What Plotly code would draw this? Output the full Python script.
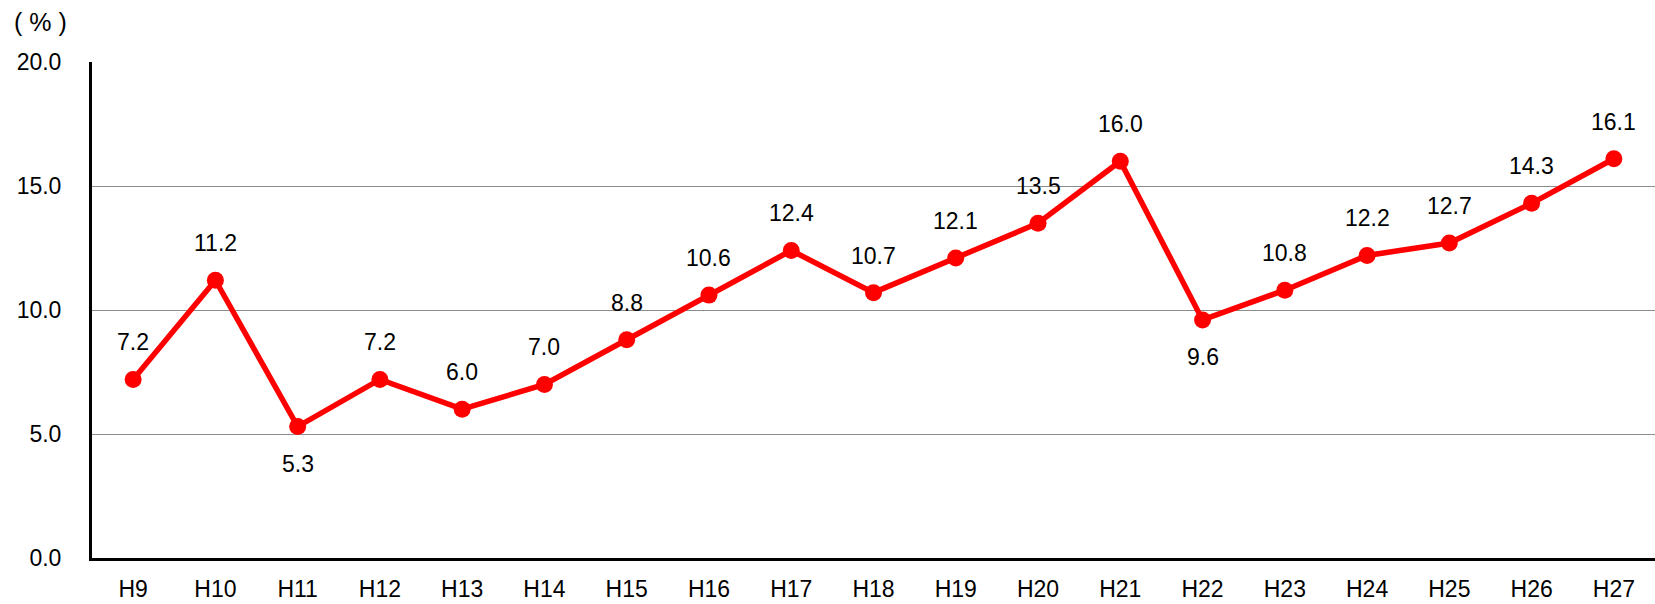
import plotly.graph_objects as go

categories = ["H9", "H10", "H11", "H12", "H13", "H14", "H15", "H16", "H17", "H18",
              "H19", "H20", "H21", "H22", "H23", "H24", "H25", "H26", "H27"]
values = [7.2, 11.2, 5.3, 7.2, 6.0, 7.0, 8.8, 10.6, 12.4, 10.7,
          12.1, 13.5, 16.0, 9.6, 10.8, 12.2, 12.7, 14.3, 16.1]
label_below = ["H11", "H22"]
y_ticks = [0, 5, 10, 15, 20]
y_tick_text = ["0.0", "5.0", "10.0", "15.0", "20.0"]

FONT = "Liberation Sans, Arial, Noto Sans CJK JP"
FS = 23

fig = go.Figure()
fig.add_trace(go.Scatter(
    x=categories, y=values, mode="lines+markers",
    line=dict(color="#ff0000", width=5.5),
    marker=dict(color="#ff0000", size=17),
    cliponaxis=False,
    hoverinfo="x+y",
))

annotations = []
for c, v in zip(categories, values):
    below = c in label_below
    annotations.append(dict(
        x=c, y=v, xref="x", yref="y", text=f"{v:.1f}", showarrow=False,
        yshift=-37 if below else 37, xanchor="center", yanchor="middle",
        font=dict(family=FONT, size=FS, color="#000000"),
    ))
annotations.append(dict(
    text="(\u00a0%\u00a0)", xref="paper", yref="paper", x=0, y=1, xshift=-80, yshift=40,
    xanchor="left", yanchor="middle", showarrow=False,
    font=dict(family=FONT, size=25, color="#000000"),
))

fig.update_layout(
    width=1655, height=604,
    margin=dict(l=92, r=0, t=62, b=46),
    paper_bgcolor="white", plot_bgcolor="white",
    showlegend=False,
    font=dict(family=FONT, size=FS, color="#000000"),
    xaxis=dict(
        type="category", showgrid=False, showline=True, linecolor="#000000", linewidth=3,
        ticks="", ticklabelstandoff=8, tickfont=dict(size=FS), automargin=False,
        range=[-0.5, len(categories) - 0.5],
    ),
    yaxis=dict(
        range=[0, 20], tickvals=y_ticks, ticktext=y_tick_text,
        showgrid=True, gridcolor="#8c8c8c", gridwidth=1,
        showline=True, linecolor="#000000", linewidth=3,
        ticks="", ticklabelstandoff=23, tickfont=dict(size=FS), automargin=False,
        zeroline=False,
    ),
    annotations=annotations,
)

fig.write_html("out.html", config={"displayModeBar": False},
               post_script="document.body.style.margin='0';document.body.style.overflow='hidden';")
